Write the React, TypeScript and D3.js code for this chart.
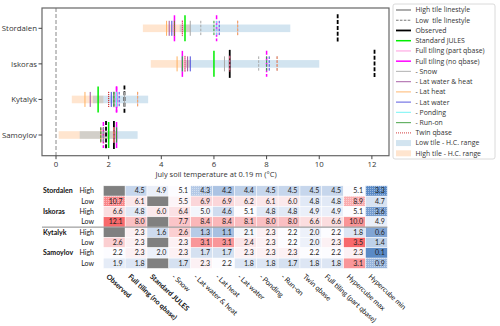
import * as d3 from 'd3';

const sites = ['Stordalen', 'Iskoras', 'Kytalyk', 'Samoylov'];
const tiles = ['High', 'Low'];
const columns = [
  'Observed', 'Full tiling (no qbase)', 'Standard JULES', '- Snow', '- Lat water & heat',
  '- Lat heat', '- Lat water', '- Ponding', '- Run-on', 'Twin qbase',
  'Full tiling (part qbase)', 'Hypercube max', 'Hypercube min',
];

// one row per site and tile, same order as columns (null = no value)
const stordalenHigh = [null, 4.5, 4.9, 5.1, 4.3, 4.2, 4.4, 4.5, 4.5, 4.5, 4.5, 5.1, 3.3];
const stordalenLow = [10.7, 6.1, null, 5.5, 6.9, 6.9, 6.2, 6.1, 6.0, 4.8, 4.8, 8.9, 4.7];
const iskorasHigh = [6.6, 4.8, 6.0, 6.4, 5.0, 4.6, 5.1, 4.8, 4.8, 4.9, 4.9, 5.1, 3.6];
const iskorasLow = [12.1, 8.0, null, 7.7, 8.4, 8.4, 8.1, 8.0, 8.0, 6.6, 6.6, 10.0, 4.9];
const kytalykHigh = [null, 2.3, 1.6, 2.6, 1.3, 1.1, 2.1, 2.3, 2.2, 2.0, 2.2, 1.8, 0.6];
const kytalykLow = [2.6, 2.3, null, 2.3, 3.1, 3.1, 2.4, 2.3, 2.2, 2.0, 2.3, 3.5, 1.4];
const samoylovHigh = [2.2, 2.3, 2.0, 2.3, 1.7, 1.7, 2.3, 2.3, 2.3, 2.2, 2.2, 2.3, 0.1];
const samoylovLow = [1.9, 1.8, null, 1.7, 2.3, 2.2, 1.8, 1.8, 1.7, 1.8, 1.8, 3.1, 0.9];

const colourBlocks = [['Stordalen', 'Iskoras'], ['Kytalyk', 'Samoylov']];
const hatchedCells = [
  ['Stordalen', 'High', '- Lat water & heat'],
  ['Stordalen', 'High', 'Hypercube min'],
  ['Stordalen', 'Low', 'Observed'],
  ['Stordalen', 'Low', 'Hypercube max'],
  ['Iskoras', 'High', 'Hypercube min'],
  ['Samoylov', 'Low', 'Hypercube min'],
];
const xTicks = [0, 2, 4, 6, 8, 10, 12];

const rows = [
  { site: 'Stordalen', tile: 'High', values: stordalenHigh },
  { site: 'Stordalen', tile: 'Low', values: stordalenLow },
  { site: 'Iskoras', tile: 'High', values: iskorasHigh },
  { site: 'Iskoras', tile: 'Low', values: iskorasLow },
  { site: 'Kytalyk', tile: 'High', values: kytalykHigh },
  { site: 'Kytalyk', tile: 'Low', values: kytalykLow },
  { site: 'Samoylov', tile: 'High', values: samoylovHigh },
  { site: 'Samoylov', tile: 'Low', values: samoylovLow },
];

// line look for each run in the top panel
const runStyle: Record<string, { color: string; w: number; h: number; dot?: boolean }> = {
  'Observed': { color: '#000', w: 1.8, h: 14 },
  'Standard JULES': { color: '#00ee00', w: 1.5, h: 13 },
  'Full tiling (part qbase)': { color: '#ff8fdc', w: 1.1, h: 8 },
  'Full tiling (no qbase)': { color: '#ff00ff', w: 1.5, h: 13 },
  '- Snow': { color: '#a8a8a8', w: 1, h: 7.5 },
  '- Lat water & heat': { color: '#a0509c', w: 1, h: 7.5 },
  '- Lat heat': { color: '#ffb060', w: 1, h: 7.5 },
  '- Lat water': { color: '#4848dc', w: 1, h: 7.5 },
  '- Ponding': { color: '#66f4f4', w: 1, h: 7.5 },
  '- Run-on': { color: '#339933', w: 1, h: 7.5 },
  'Twin qbase': { color: '#d03030', w: 1, h: 7.5, dot: true },
};
const runOrder = Object.keys(runStyle);

const plotFont = '"Open Sans", sans-serif';
const tableFont = 'Lato, sans-serif';

export default function App() {
  const W = 500, H = 326;
  const plot = { left: 42, right: 389, top: 8, bottom: 155.7 };
  const x = d3.scaleLinear().domain([-0.532, 12.65]).range([plot.left, plot.right]);
  const y = d3.scalePoint().domain(sites).range([28.3, 135]);

  // table geometry
  const tx0 = 103.3, colW = 21.85, ty0 = 185.8, rowH = 10.33;
  const colX = d3.scaleBand().domain(columns).range([tx0, tx0 + colW * columns.length]);
  const rowY = d3.scaleBand().domain(rows.map(r => r.site + r.tile)).range([ty0, ty0 + rowH * rows.length]);

  // excel style 3-colour scale (min / median / max) per block of sites
  const colourFor = new Map<string, (v: number) => string>();
  colourBlocks.forEach(block => {
    const vals = rows.filter(r => block.includes(r.site)).flatMap(r => r.values.filter(v => v != null) as number[]);
    const s = d3.scaleLinear<string>()
      .domain([d3.min(vals)!, d3.median(vals)!, d3.max(vals)!])
      .range(['#5A8AC6', '#FCFCFF', '#F8696B'])
      .interpolate(d3.interpolateRgb);
    block.forEach(site => colourFor.set(site, s));
  });

  const legendItems = [
    'High tile linestyle', 'Low  tile linestyle', ...runOrder,
    'Low tile - H.C. range', 'High tile - H.C. range',
  ];
  const legendY = d3.scalePoint().domain(legendItems).range([10, 153.3]);

  return (
    <svg width={W} height={H} style={{ position: 'absolute', left: 0, top: 0 }}>
      <defs>
        <pattern id="dots" width="2" height="2" patternUnits="userSpaceOnUse">
          <rect width="1" height="1" fill="#fff" opacity="0.4" />
        </pattern>
      </defs>
      <rect width={W} height={H} fill="#fff" />

      {/* hypercube ranges */}
      {rows.map(r => {
        const lo = r.values[12] as number, hi = r.values[11] as number;
        const c = r.tile === 'Low' ? '#1f77b4' : '#ff7f0e';
        return (
          <rect key={'b' + r.site + r.tile} x={x(lo)} width={x(hi) - x(lo)}
            y={y(r.site)! - 3.8} height={7.6} fill={c} opacity={0.2} />
        );
      })}

      <line x1={x(0)} x2={x(0)} y1={plot.top} y2={plot.bottom} stroke="#888" strokeDasharray="4,2" strokeWidth={1} />

      {/* runs */}
      {runOrder.map(name => {
        const ci = columns.indexOf(name);
        const st = runStyle[name];
        return rows.map(r => {
          const v = r.values[ci];
          if (v == null) return null;
          const cy = y(r.site)!;
          const dash = st.dot ? '1,1' : r.tile === 'Low' ? (st.w > 1.4 ? '4,1.8' : '2.6,1.3') : undefined;
          return (
            <line key={name + r.site + r.tile} x1={x(v)} x2={x(v)} y1={cy - st.h} y2={cy + st.h}
              stroke={st.color} strokeWidth={st.w} strokeDasharray={dash} />
          );
        });
      })}

      {/* frame and axes */}
      <rect x={plot.left} y={plot.top} width={plot.right - plot.left} height={plot.bottom - plot.top}
        fill="none" stroke="#666" strokeWidth={1.2} />
      {xTicks.map(t => (
        <g key={t} transform={`translate(${x(t)},${plot.bottom})`}>
          <line y2={3.5} stroke="#444" />
          <text y={11.8} textAnchor="middle" fontSize={7.8} fontFamily={plotFont} fill="#333">{t}</text>
        </g>
      ))}
      {sites.map(s => (
        <g key={s} transform={`translate(${plot.left},${y(s)})`}>
          <line x2={-3.5} stroke="#444" />
          <text x={-5} dy="0.35em" textAnchor="end" fontSize={7.8} fontFamily={plotFont} fill="#333">{s}</text>
        </g>
      ))}
      <text x={216} y={176.5} textAnchor="middle" fontSize={7.5} fontFamily={plotFont} fill="#333">
        July soil temperature at 0.19 m (°C)
      </text>

      {/* legend */}
      <rect x={393} y={4} width={102} height={155} rx={2} fill="#fff" stroke="#d0d0d0" strokeWidth={0.8} />
      {legendItems.map((name, i) => {
        const ly = legendY(name)!;
        let sample;
        if (i === 0) sample = <line x1={396} x2={411} y1={ly} y2={ly} stroke="#777" strokeWidth={1.2} />;
        else if (i === 1) sample = <line x1={396} x2={411} y1={ly} y2={ly} stroke="#777" strokeWidth={1} strokeDasharray="2.6,1.3" />;
        else if (runStyle[name]) {
          const st = runStyle[name];
          sample = <line x1={396} x2={411} y1={ly} y2={ly} stroke={st.color} strokeWidth={st.w > 1.4 ? st.w : 1.2}
            strokeDasharray={st.dot ? '1,1' : undefined} opacity={st.w > 1.4 ? 1 : 0.75} />;
        } else {
          sample = <rect x={396} y={ly - 3} width={15} height={6} fill={name.startsWith('Low') ? '#1f77b4' : '#ff7f0e'} opacity={0.2} />;
        }
        return (
          <g key={name}>
            {sample}
            <text x={415.5} y={ly} dy="0.35em" fontSize={6.9} fontFamily={plotFont} fill="#333" style={{ whiteSpace: 'pre' }}>{name}</text>
          </g>
        );
      })}

      {/* table */}
      {rows.map(r => {
        const ry = rowY(r.site + r.tile)!;
        const col = colourFor.get(r.site)!;
        return (
          <g key={'t' + r.site + r.tile}>
            {r.tile === 'High' && (
              <text x={43} y={ry + rowH / 2} dy="0.35em" fontSize={7} fontWeight="bold" fontFamily={tableFont} fill="#111">{r.site}</text>
            )}
            <text x={94} y={ry + rowH / 2} dy="0.35em" textAnchor="end" fontSize={7} fontFamily={tableFont} fill="#222">{r.tile}</text>
            {r.values.map((v, ci) => {
              const cx = colX(columns[ci])!;
              const hatched = hatchedCells.some(h => h[0] === r.site && h[1] === r.tile && h[2] === columns[ci]);
              return (
                <g key={ci}>
                  <rect x={cx} y={ry} width={colW} height={rowH} fill={v == null ? '#808080' : col(v)} stroke="#fff" strokeWidth={0.5} />
                  {hatched && <rect x={cx} y={ry} width={colW} height={rowH} fill="url(#dots)" />}
                  {v != null && (
                    <text x={cx + colW - 2.5} y={ry + rowH / 2} dy="0.35em" textAnchor="end" fontSize={7} fontFamily={tableFont} fill="#222">
                      {v.toFixed(1)}
                    </text>
                  )}
                </g>
              );
            })}
          </g>
        );
      })}
      <line x1={42} x2={tx0 + colW * columns.length} y1={rowY('KytalykHigh')} y2={rowY('KytalykHigh')} stroke="#888" strokeWidth={1} />
      {columns.map((c, i) => (
        <text key={c} transform={`translate(${colX(c)! + colW / 2 - 5},${ty0 + rowH * 8 + 5}) rotate(43)`}
          dy="0.7em" fontSize={7.2} fontFamily={tableFont} fontWeight={i < 3 ? 'bold' : 'normal'} fill="#111">{c}</text>
      ))}
    </svg>
  );
}
